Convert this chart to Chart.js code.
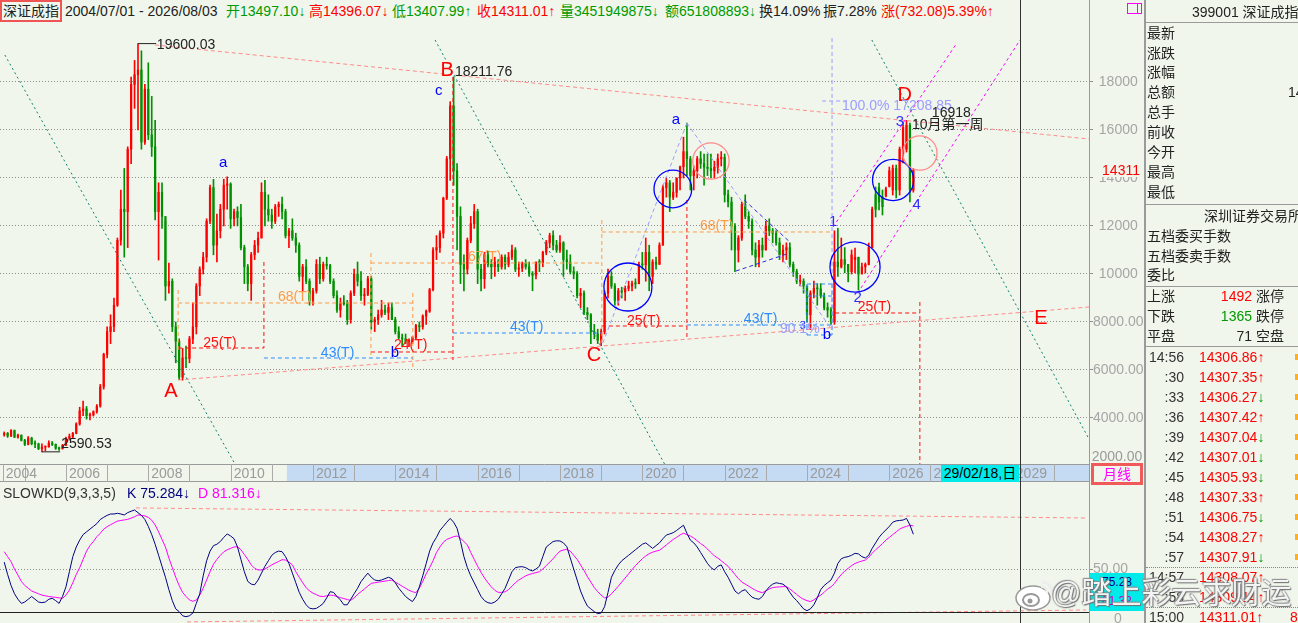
<!DOCTYPE html>
<html>
<head>
<meta charset="utf-8">
<title>深证成指 月线</title>
<script src="https://cdn.jsdelivr.net/npm/chart.js@4.4.1/dist/chart.umd.min.js"></script>
<style>
  body { margin:0; width:1298px; height:623px; overflow:hidden; position:relative; background:#f0f6ec;
         font-family: Arial, "Liberation Sans", "Noto Sans CJK SC", sans-serif; font-size:14px; color:#222; }
  .a { position:absolute; white-space:nowrap; line-height:18px; }
  .g { color:#009a00; }
  .r { color:#ff0000; }
  canvas { position:absolute; left:0; }
  #panel { position:absolute; left:1146px; top:0; width:152px; height:623px; overflow:hidden; }
  .hl { position:absolute; left:0; width:152px; height:1px; background:#9a9a9a; }
  .dl { position:absolute; left:0; width:152px; height:0; border-top:1px dotted #888; }
</style>
</head>
<body>

<canvas id="mainChart" width="1145" height="460" style="top:22px"></canvas>
<canvas id="kdChart" width="1145" height="141" style="top:482px"></canvas>

<!-- title bar -->
<div class="a" style="left:0;top:0;width:58px;height:18px;border:2px solid #f05555;text-align:center">深证成指</div>
<div class="a" style="left:65px;top:2px">2004/07/01 - 2026/08/03</div>
<div class="a g" style="left:226px;top:2px">开13497.10↓</div>
<div class="a r" style="left:309px;top:2px">高14396.07↓</div>
<div class="a g" style="left:392px;top:2px">低13407.99↑</div>
<div class="a r" style="left:477px;top:2px">收14311.01↑</div>
<div class="a g" style="left:560px;top:2px">量3451949875↓</div>
<div class="a g" style="left:665px;top:2px">额651808893↓</div>
<div class="a" style="left:759px;top:2px">换14.09%</div>
<div class="a" style="left:823px;top:2px">振7.28%</div>
<div class="a r" style="left:881px;top:2px">涨(732.08)5.39%↑</div>
<div style="position:absolute;left:1127px;top:3px;width:13px;height:9px;border:1px solid #ff00ff"><div style="position:absolute;left:9px;top:0;width:1px;height:9px;background:#ff00ff"></div></div>

<!-- frame lines, cursor -->
<div style="position:absolute;left:1089px;top:22px;width:1px;height:601px;background:#9a9a9a"></div>
<div style="position:absolute;left:1089px;top:0;width:1px;height:22px;background:#9a9a9a"></div>
<div style="position:absolute;left:1144px;top:0;width:2px;height:623px;background:#9a9a9a"></div>
<div style="position:absolute;left:1020px;top:0;width:1px;height:623px;background:#333"></div>
<div class="a" style="left:941px;top:465px;width:78px;height:17px;line-height:17px;background:#00eaea;color:#000;text-align:center">29/02/18,日</div>
<div class="a" style="left:1091px;top:463px;width:46px;height:16px;line-height:16px;border:3px solid #f05a5a;text-align:center;color:#ff00ff">月线</div>

<!-- KD title -->
<div class="a" style="left:3px;top:484px;color:#333">SLOWKD(9,3,3,5)</div>
<div class="a" style="left:127px;top:484px;color:#000080">K 75.284↓</div>
<div class="a" style="left:198px;top:484px;color:#ff00ff">D 81.316↓</div>
<div class="a" style="left:1090px;top:573px;width:54px;height:38px;background:#00eaea;font-size:12px;line-height:19px;color:#000080;text-align:center">75.28<br><span style="color:#c000c0">81.32</span></div>

<!-- quote panel -->
<div id="panel"></div>

<!-- watermark -->
<svg style="position:absolute;left:1014px;top:578px" width="40" height="34">
  <ellipse cx="19" cy="20" rx="17" ry="12" fill="#fff" stroke="#999" stroke-width="1.5"/>
  <ellipse cx="17" cy="22" rx="8" ry="6" fill="none" stroke="#999" stroke-width="2"/>
  <circle cx="16" cy="23" r="2.5" fill="#999"/>
  <path d="M28 4 A10 10 0 0 1 38 14" fill="none" stroke="#eee" stroke-width="3"/>
  <path d="M27 9 A5 5 0 0 1 33 15" fill="none" stroke="#eee" stroke-width="2.5"/>
</svg>
<div class="a" style="left:1051px;top:574px;font-size:30px;line-height:38px;color:rgba(255,255,255,0.92);text-shadow:0 0 2px #666,1px 1px 1px #777,-1px -1px 1px #999">@踏上彩云求财运</div>

<script>
// 月线数据 2004/07 - 2026/08 (index 0 = 2004/07)
var startMonth = "2004/07";
var openP = [
  3300,3360,3250,3480,3200,3280,
  3070,2900,3160,2930,2920,2720,2790,2800,2960,2900,2740,2720,
  2860,3150,3230,3360,3750,4300,4380,4100,4130,4260,4500,5300,
  6650,7600,7800,8700,11400,12700,12600,15200,17900,18300,18500,15500,
  17700,15800,15300,12600,13400,12400,9500,9700,7800,7200,5700,6500,
  6480,7300,7800,9500,10200,10700,12200,13600,11200,11800,12700,13700,
  13750,12300,12600,12350,11100,10300,9600,10800,11200,11500,13400,12700,
  12460,12200,12800,12900,12600,11600,11800,11500,11200,9900,10300,9700,
  8900,9300,10400,9800,10400,10350,9700,9100,8500,8800,8800,8100,
  9200,10000,9700,9100,9150,9800,8000,8100,8300,8500,8400,8600,
  8100,7600,7350,7300,7200,7200,7350,7850,7800,8250,8450,9350,
  11000,11100,11700,13160,14800,17000,14300,12400,10400,10200,11400,12100,
  12600,10200,9800,10800,10400,10300,10500,10300,10700,10400,10700,11000,
  10200,10250,10450,10300,10000,9950,10500,10480,10900,11300,11600,11200,
  11000,11300,10600,10500,10100,10000,9100,9200,8400,8300,7600,7500,
  7240,7600,9200,9900,9500,8900,9300,9250,9400,9500,9600,9590,
  10400,10380,10900,9900,10500,10400,11200,13600,13800,13200,13400,14000,
  14470,15100,14800,14100,14300,14800,14600,14450,14400,14300,14450,14800,
  14860,13300,13000,12000,11000,11500,12900,12400,12200,11000,10700,11200,
  11000,12000,11800,11700,11300,10800,11000,11100,10400,10100,9700,9700,
  9500,8300,9200,9400,9380,9100,8600,8500,8000,10500,10300,10600,
  10400,10100,10600,10700,10000,10300,10400,11100,13300,13600,13200,13250,
  13650,13500,14400,13500,15000,15200,16200,13497.10
];
var highP = [
  3420,3400,3520,3500,3330,3300,
  3110,3230,3200,3050,2950,2920,2830,3050,3020,2920,2790,2900,
  3200,3330,3400,3800,4450,4700,4480,4200,4300,4560,5400,6700,
  7800,8300,9000,11500,13500,14400,15300,18200,18900,19600.03,19300,17900,
  18800,17400,16400,13800,13800,12200,10450,9800,8000,7300,6900,7000,
  7400,8800,9600,10300,10900,12300,13700,13943,12500,12900,13950,14050,
  13800,12700,12800,12900,11200,10400,10900,11400,11750,13800,13900,13300,
  12700,12900,13000,13200,12700,11900,12300,11700,11300,10400,10600,9800,
  9400,10600,10700,10500,10700,10400,9800,9300,9000,9100,8900,9300,
  10200,10500,10100,9400,9900,9900,8200,8500,8900,8700,8800,8800,
  8200,7800,7500,7500,7300,7400,7900,8000,8300,8500,9400,11100,
  11600,11800,13200,14900,17180,18211.76,14600,12800,10800,11500,12400,12900,
  12700,10400,10900,10950,10600,10700,10600,10800,10800,10900,11200,11100,
  10500,10500,10600,10500,10100,10500,10600,10950,11400,11700,11800,11400,
  11600,11350,11000,10800,10300,10100,9400,9300,8600,8350,7900,7700,
  7700,9300,10200,10100,9600,9400,9450,9500,9700,9700,9800,10500,
  10900,11500,11200,10600,10700,11300,13700,14000,13900,13800,14000,14500,
  15700,16293,14900,14500,14900,15100,15000,15000,15000,14700,15000,15100,
  15000,13500,13200,12100,11600,13000,13300,12600,12300,11300,11400,11500,
  12200,12300,11900,11800,11500,11200,11300,11300,10500,10200,9950,9800,
  9500,9300,9700,9600,9600,9200,8800,8600,11800,11900,11500,11100,
  10400,11000,11080,10700,10460,10460,11290,12790,13625,13790,13500,13625,
  14460,14540,14540,15290,16330,16400,16290,14396.07
];
var lowP = [
  3240,3190,3220,3180,3160,3040,
  2850,2880,2880,2760,2680,2590.53,2630,2780,2850,2690,2650,2700,
  2850,3080,3150,3340,3700,4100,3950,3920,4080,4200,4450,5200,
  6500,7100,7600,8650,11200,10700,11100,14600,16900,16000,15200,15400,
  15600,14900,12250,10580,11900,8900,9200,7600,6300,5600,5577,6100,
  6300,7100,7500,9100,10000,10500,12100,10800,10500,11500,12000,12700,
  11900,12000,12000,11000,9600,9300,8900,10600,10900,11500,12000,12200,
  11900,12100,12400,12300,11500,11100,11400,10900,9700,9300,9600,8700,
  8700,9200,9600,9700,10200,9600,9000,8400,8200,8700,7900,7950,
  9100,9500,8900,8700,9100,7700,7600,7900,8200,8300,8100,8100,
  7500,7300,6960,7100,6980,7100,7300,7600,7700,7900,8400,9300,
  10600,10900,11500,13100,13900,13700,11000,9600,9300,10000,11300,11900,
  9600,9300,9400,10300,9800,9900,10100,10200,10200,10300,10600,10100,
  9900,10100,10200,9900,9300,9800,10100,10300,10800,11100,11000,10900,
  10900,9900,10200,10000,9800,9000,8600,8300,8100,7100,7300,7100,
  7011,7500,9000,9400,8700,8700,9000,8900,9300,9300,9400,9600,
  10200,9700,9300,9600,10200,10400,11200,13200,12600,13100,13200,13500,
  14000,14100,13500,13500,14000,14400,13700,14100,14000,14000,14200,14500,
  13000,12800,11000,10100,10500,11400,12300,11900,10800,10300,10300,10700,
  11000,11600,11300,11200,10600,10500,10600,10300,9900,9600,9500,9200,
  8000,7683,9000,8700,9000,8500,8200,7900,7900,9900,10250,10050,
  9670,10000,10040,9330,10000,10040,10375,11100,12375,12670,12460,13210,
  13625,13290,13170,13290,14625,15080,13000,13407.99
];
var closeP = [
  3360,3250,3480,3200,3280,3070,
  2900,3160,2930,2920,2720,2790,2800,2960,2900,2740,2720,2860,
  3150,3230,3360,3750,4300,4380,4100,4130,4260,4500,5300,6650,
  7600,7800,8700,11400,12700,12600,15200,17900,18300,18500,15500,17700,
  15800,15300,12600,13400,12400,9500,9700,7800,7200,5700,6500,6480,
  7300,7800,9500,10200,10700,12200,13600,11200,11800,12700,13700,13750,
  12300,12600,12350,11100,10300,9600,10800,11200,11500,13400,12700,12460,
  12200,12800,12900,12600,11600,11800,11500,11200,9900,10300,9700,8900,
  9300,10400,9800,10400,10350,9700,9100,8500,8800,8750,8100,9200,
  10000,9700,9100,9150,9800,8000,8100,8300,8500,8400,8600,8100,
  7600,7350,7300,7200,7200,7350,7850,7800,8250,8450,9350,11000,
  11100,11700,13160,14800,17000,14300,12400,10400,10200,11400,12100,12600,
  10200,9800,10800,10400,10300,10500,10300,10700,10400,10700,11000,10200,
  10250,10450,10300,10000,9950,10500,10480,10900,11300,11600,11200,11000,
  11300,10600,10500,10100,10000,9100,9200,8400,8300,7600,7500,7240,
  7600,9200,9900,9500,8900,9300,9250,9400,9500,9600,9590,10400,
  10380,10900,9900,10500,10400,11200,13600,13800,13200,13400,14000,14470,
  15100,14800,14100,14300,14800,14600,14450,14400,14300,14450,14800,14860,
  13300,13000,12000,11000,11500,12900,12400,12200,11000,10700,11200,11000,
  12000,11800,11700,11300,10800,11000,11100,10400,10100,9700,9700,9500,
  8300,9200,9400,9380,9100,8600,8500,8000,10500,10300,10600,10400,
  10100,10800,10700,10000,10300,10400,11100,12700,12700,13000,12800,13550,
  14300,14400,13500,15200,16100,16200,13500,14311.01
];
// SLOWKD(9,3,3,5)
var kLine = [
  55,46,38,32,28,25,26,28,30,28, 26,25.5,26,28,28.7,27,25,30,37,48,
  59,66,71,75,77,79,81,83,86,87.6, 89,90,90,90.5,90,89.3,91,92,92.9,91,
  89,86,81,75,68,60,52,44,35,27, 21,19,16,15.3,16,18,25,32,45,56,
  63,67,68,70,73,75.5,74,72,66,57, 48,41,39,38.5,42,47,52,56,60,62,
  63,62.6,59,54,47,40,33,28,24,21.5, 21,21.4,23,25,29,33.5,33,30,27.5,24,
  24,28,32,36,40.8,44,47,44,42,41.5, 42,43,44,43,40,36,33,30,28,26.3,
  30,37,45,54,63,69,73,78,81,84, 86.8,84,79.6,70,59,51,45,40,35,30,
  27,25.5,25,26,28,32,36,42,48,51, 51.5,51.7,51,49.5,48.6,50,52,59,66,68,
  70,70.5,70.4,69,66.2,58,50,42,34,28, 23,21,19,17.5,18,22.6,33,44,49,53,
  56,58,60,62,64,66,68,69,67,65, 67,69,72,74.7,75.5,76.4,78,80,81.8,76,
  71,69,66,62,58,54,51,49.3,52,53, 48,44,39,34,32,34,35,32,29.5,28.5,
  28,30,34,37,39,40,39.5,39,37,33, 29.5,27,24,21,19.7,21,24,29,35,38,
  40,42,47,54,57.5,58.5,59,60,61.4,61, 59,58,60,65,69,73,76,78.4,81,84,
  85,85.3,85.6,86.8,82,75.28
];
var dLine = [
  62.6,59,55.3,50,45.6,41,38,36,34,33, 32,31,30.5,30,29.7,29.4,29,28.7,31,34.7,
  40,46,51,57,63,67,70,73.5,76,79, 80.8,82.2,83.5,84.8,85.3,85.7,86.1,87,88,89.3,
  89,88.6,87.5,85.5,82,77,71.5,66,58,51, 44,38,33,30,27.5,26.5,27.5,31,36,42,
  48,53.5,57,60,62.5,64,65,66,66.2,64, 60.5,57,53,50.5,49.3,49.3,50,51.5,53,54.3,
  55.5,56.8,56.5,55,53,48,44,40,36.5,34, 32.5,31.3,30.2,30,30.5,31,30.8,30,29.2,28.5,
  27.8,27.2,29,31.5,33.5,35.5,37.6,39.6,40,40.4, 40.8,41.2,41.6,42,40.5,39,37.5,36,34.5,33.5,
  32.8,36,41,46.5,51,56,62,66,69.5,71.5, 72.5,73.5,74,72.5,70,67.5,62,57,52,47.5,
  43.5,40,37,34.5,33,33,33.4,35,37.5,40, 42,43.5,45,46,46.7,47.4,48,50,52.5,55,
  57.5,60.5,63,63.8,64.3,63,60,57,53,49, 44.4,40.5,36.5,33.5,31,29,29.5,32,34.7,37.5,
  40.5,43.5,46.5,49.5,52.5,55,57.5,59.5,61.2,62.2, 63,63.6,65.5,67.5,69.5,71.5,73,74.8,76,75,
  74,72.5,70.5,68.5,66.8,64.5,62,59.5,58,56, 54,52,49,46,43,40.5,39,37.5,36,34.5,
  33.5,32.8,34,35.5,36.5,36.8,37,37.2,37.2,35.5, 33.5,31.5,29.5,28,27,26.3,27.5,29.5,31,33,
  35.5,37,39.5,43,46,48.5,50.5,52.5,54,55, 55.8,56.5,58.5,61.5,64,66.2,68.5,71,73,75,
  77,79,80.2,81,81.8,81.32
];
var priceTicks = [4000, 6000, 8000, 10000, 12000, 14000, 16000, 18000];
var yearLabels = ["2004","2006","2008","2010","2012","2014","2016","2018","2020","2022","2024","2026","2027","2028","2029"];

// 右侧行情栏
var quoteLabels = ["最新","涨跌","涨幅","总额","总手","前收","今开","最高","最低"];
var orderLabels = ["五档委买手数","五档委卖手数","委比"];
var breadthRows = [["上涨","1492","涨停","#ff0000"],["下跌","1365","跌停","#009a00"],["平盘","71","空盘","#222"]];
var tickTimes = ["14:56",":30",":33",":36",":39",":42",":45",":48",":51",":54",":57","14:57",":58","15:00"];
var tickPrices = ["14306.86","14307.35","14306.27","14307.42","14307.04","14307.01","14305.93","14307.33","14306.75","14308.27","14307.91","14308.07","14309.14","14311.01"];
var tickDirs = [1,1,0,1,0,0,0,1,0,1,0,1,1,1];

var RED = "#ff0000", GREEN = "#009000";

// 面板
var panel = document.getElementById("panel");
var html = '<div class="a" style="left:46px;top:3px">399001 深证成指</div><div class="hl" style="top:22px"></div>';
quoteLabels.forEach(function (t, k) {
    var cy = [33,53,72,92,112,132,152,172,192][k];
    html += '<div class="a" style="left:1px;top:' + (cy - 9) + 'px">' + t + '</div>';
});
html += '<div class="a" style="left:142px;top:83px">14</div>';
html += '<div class="hl" style="top:204px"></div><div class="a" style="left:58px;top:207px">深圳证券交易所</div>';
orderLabels.forEach(function (t, k) {
    html += '<div class="a" style="left:1px;top:' + (227 + k * 20 - (k == 2 ? 1 : 0)) + 'px">' + t + '</div>';
});
html += '<div class="hl" style="top:286px"></div>';
breadthRows.forEach(function (r, k) {
    var top = 287 + k * 20;
    html += '<div class="a" style="left:1px;top:' + top + 'px">' + r[0] + '</div>' +
        '<div class="a" style="left:50px;width:56px;text-align:right;top:' + top + 'px;color:' + r[3] + '">' + r[1] + '</div>' +
        '<div class="a" style="left:110px;top:' + top + 'px">' + r[2] + '</div>';
});
html += '<div class="hl" style="top:346px"></div>';
tickTimes.forEach(function (t, k) {
    var cy = k < 11 ? 357 + k * 20 : (k == 11 ? 577 : (k == 12 ? 597 : 617));
    var arrow = tickDirs[k] ? '<span class="r">↑</span>' : '<span class="g">↓</span>';
    html += '<div class="a" style="left:0;width:38px;text-align:right;top:' + (cy - 9) + 'px;color:#333">' + t + '</div>' +
        '<div class="a r" style="left:53px;top:' + (cy - 9) + 'px">' + tickPrices[k] + arrow + '</div>';
    if (k < 11) html += '<div style="position:absolute;left:149px;top:' + (cy - 3) + 'px;width:3px;height:6px;background:#ffb020"></div>';
});
html += '<div class="a r" style="left:144px;top:608px">8</div>';
html += '<div class="dl" style="top:567px"></div><div class="dl" style="top:607px"></div>';
panel.innerHTML = html;

Chart.defaults.font.family = 'Arial, "Liberation Sans", "Noto Sans CJK SC", sans-serif';

// 标注 (月序号, 点位)
var RD = "#ff1010", OR = "#ff9a4a", BL = "#2d8cff", NV = "#2b2bd9", LV = "#9c9cff",
    MG = "#ff00ff", TL = "#0a8070", PK = "#ff8a8a", BK = "#222";
var DASH = [4, 3], DOT = [2, 3], NONE = [];
var segs = [
    [PK, DASH, 44, 19542, 316.2, 15625], [PK, DASH, 50.7, 5583, 316.2, 8625],
    [TL, DOT, 0.2, 19125, 67.4, 2050], [TL, DOT, 125.6, 19750, 192.6, 2050], [TL, DOT, 252.9, 19750, 316.2, 3125],
    [RD, DASH, 50.7, 6917, 75.7, 6917], [RD, DASH, 75.7, 10500, 75.7, 6917],
    [RD, DASH, 106.9, 6750, 130.8, 6750], [RD, DASH, 130.8, 18208, 130.8, 6417],
    [RD, DASH, 174.2, 7833, 199, 7833], [RD, DASH, 199, 13083, 199, 7375],
    [RD, DASH, 242.2, 8375, 266.9, 8375], [RD, DASH, 266.9, 8833, 266.9, 2050],
    [OR, DASH, 50.7, 9333, 50.7, 6833], [OR, DASH, 50.7, 8792, 119.1, 8792], [OR, DASH, 119.1, 9208, 119.1, 6083],
    [OR, DASH, 106.9, 10875, 106.9, 6542], [OR, DASH, 106.9, 10458, 174.2, 10458], [OR, DASH, 174.2, 12250, 174.2, 7042],
    [OR, DASH, 174.2, 11750, 241.3, 11750],
    [BL, DASH, 75.7, 6500, 119.1, 6500], [BL, DASH, 130.8, 7542, 174.2, 7542], [BL, DASH, 199, 7875, 241.6, 7875],
    [BL, DASH, 234, 9583, 241.3, 9583], [BL, DASH, 234, 7458, 241.3, 7458], [BL, DASH, 234, 9583, 234, 7458],
    [BL, DASH, 241.3, 9583, 241.3, 7458], [BL, DASH, 234, 9083, 241.3, 9083],
    [NV, DASH, 215.7, 13083, 229, 11333], [NV, DASH, 213.3, 10125, 229, 10875],
    [LV, DASH, 174.5, 7125, 199, 16292], [LV, DASH, 199, 16292, 241.3, 7667],
    [LV, DASH, 241.3, 19833, 241.3, 7667], [LV, DASH, 238.4, 17208.85, 245, 17208.85],
    [MG, [3, 3], 241.6, 11958, 277.7, 19625], [MG, [3, 3], 248.8, 9208, 296.1, 19750],
    [BK, NONE, 39, 19600, 44.3, 19600], [BK, NONE, 11, 2590, 16.3, 2590]
];
var rings = [
    [181.8, 9458, 7, "#0000ff"], [194.9, 13542, 5.5, "#0000ff"], [206, 14708, 5.3, PK],
    [248, 10292, 7.3, "#0000ff"], [259.1, 13917, 6, "#0000ff"], [266.9, 15042, 5, PK]
];
var F20 = "20px Arial", F14 = '14px Arial, "Noto Sans CJK SC"';
var notes = [
    [48.6, 5125, "A", RED, F20, "center"], [129.1, 18500, "B", RED, F20, "center"],
    [171.9, 6625, "C", RED, F20, "center"], [262.5, 17458, "D", RED, F20, "center"], [302.2, 8167, "E", RED, F20, "center"],
    [63.8, 14625, "a", "#0000ff", "15px Arial", "center"], [126.7, 17625, "c", "#0000ff", "15px Arial", "center"],
    [113.9, 6708, "b", "#0000ff", "15px Arial", "center"], [195.8, 16417, "a", "#0000ff", "15px Arial", "center"],
    [239.8, 7458, "b", "#0000ff", "15px Arial", "center"],
    [241.6, 12167, "1", "#3030ff", "15px Arial", "center"], [248.8, 9000, "2", "#3030ff", "15px Arial", "center"],
    [261.1, 16333, "3", "#3030ff", "15px Arial", "center"], [266, 12875, "4", "#3030ff", "15px Arial", "center"],
    [232.8, 7850, "3", "#3030ff", "11px Arial", "center"],
    [44.5, 19542, "19600.03", BK, F14], [16.6, 2917, "2590.53", BK, F14], [131.4, 18417, "18211.76", BK, F14],
    [244.2, 17000, "100.0% 17208.85", LV, F14], [226.1, 7708, "90.1%", LV, F14],
    [270.4, 16708, "16918", BK, F14], [264.6, 16208, "10月第一周", BK, F14],
    [58, 7125, "25(T)", RD, F14], [79.8, 9042, "68(T)", OR, F14], [92.3, 6708, "43(T)", BL, F14],
    [113.6, 7042, "24(T)", RD, F14], [135.2, 10708, "67(T)", OR, F14], [147.4, 7792, "43(T)", BL, F14],
    [181.5, 8042, "25(T)", RD, F14], [202.8, 12000, "68(T)", OR, F14], [215.6, 8125, "43(T)", BL, F14],
    [248.8, 8625, "25(T)", RD, F14]
];

var annoPlugin = {
    id: "anno",
    afterDatasetsDraw: function (chart) {
        var c = chart.ctx, a = chart.chartArea;
        var X = function (i) { return chart.scales.x.getPixelForValue(i); };
        var Y = function (v) { return chart.scales.y.getPixelForValue(v); };
        c.save();
        c.beginPath(); c.rect(a.left, a.top, a.right - a.left, a.bottom - a.top); c.clip();
        c.lineWidth = 1;
        segs.forEach(function (s) {
            c.strokeStyle = s[0]; c.setLineDash(s[1]);
            c.beginPath(); c.moveTo(X(s[2]), Y(s[3])); c.lineTo(X(s[4]), Y(s[5])); c.stroke();
        });
        c.setLineDash([]);
        c.lineWidth = 1.3;
        rings.forEach(function (r) {
            c.strokeStyle = r[3];
            c.beginPath(); c.arc(X(r[0]), Y(r[1]), X(r[2]) - X(0), 0, Math.PI * 2); c.stroke();
        });
        c.textBaseline = "middle";
        notes.forEach(function (n) {
            c.font = n[4]; c.fillStyle = n[3]; c.textAlign = n[5] || "left";
            c.fillText(n[2], X(n[0]), Y(n[1]));
        });
        c.restore();
    }
};

// 时间轴条 + 右轴标记
var bandPlugin = {
    id: "band",
    afterDraw: function (chart) {
        var c = chart.ctx, a = chart.chartArea, xs = chart.scales.x;
        var top = a.bottom, h = 18, blue0 = xs.getPixelForValue(82.4);
        c.save();
        c.fillStyle = "#f0f6ec"; c.fillRect(0, top, a.right, h);
        c.fillStyle = "#c5daf3"; c.fillRect(blue0, top + 1, a.right - blue0, h - 2);
        c.strokeStyle = "#9a9a9a"; c.lineWidth = 1;
        c.beginPath();
        c.moveTo(0, top + 0.5); c.lineTo(a.right, top + 0.5);
        c.moveTo(0, top + h - 0.5); c.lineTo(a.right, top + h - 0.5);
        c.stroke();
        c.strokeStyle = "#aaaaaa";
        for (var yr = 2004; yr <= 2030; yr++) {
            var px = Math.round(xs.getPixelForValue(yr == 2004 ? -0.4 : (yr - 2004) * 12 - 6)) + 0.5;
            c.beginPath(); c.moveTo(px, top); c.lineTo(px, top + h); c.stroke();
        }
        c.fillStyle = "#9a9a9a"; c.font = "14px Arial"; c.textBaseline = "middle"; c.textAlign = "left";
        yearLabels.forEach(function (lb) {
            var y = +lb, i = y == 2004 ? -0.4 : (y - 2004) * 12 - 6;
            c.fillText(lb, xs.getPixelForValue(i) + 3, top + h / 2 + 1);
        });
        // 2000.00 (partly hidden) and last price tag
        c.textAlign = "center";
        c.fillText("2000.00", 1117, 435);
        c.fillStyle = "#f0f6ec"; c.fillRect(1091, 140, 53, 15);
        c.fillStyle = "#ff0000"; c.fillText("14311", 1121, 149);
        c.restore();
    }
};

var idx = closeP.map(function (_, i) { return i; });
var upDown = idx.map(function (i) { return closeP[i] >= openP[i] ? RED : GREEN; });

new Chart(document.getElementById("mainChart"), {
    type: "bar",
    data: {
        datasets: [
            {
                label: "影线",
                data: idx.map(function (i) { return { x: i, y: [lowP[i], highP[i]] }; }),
                backgroundColor: upDown, barThickness: 1, grouped: false, borderWidth: 0
            },
            {
                label: "实体",
                data: idx.map(function (i) { return { x: i, y: [openP[i], closeP[i]] }; }),
                backgroundColor: upDown, barThickness: 1.6, grouped: false, borderWidth: 0, minBarLength: 1
            }
        ]
    },
    options: {
        responsive: false, animation: false, events: [], devicePixelRatio: 1,
        layout: { padding: { left: 0, right: 0, top: 0, bottom: 18 } },
        plugins: { legend: { display: false }, tooltip: { enabled: false } },
        scales: {
            x: { type: "linear", min: -1.224, max: 316.2, offset: false, display: false },
            y: {
                position: "right", min: 2083, max: 20500,
                afterFit: function (s) { s.width = 56; s.paddingTop = 0; s.paddingBottom = 0; },
                afterBuildTicks: function (s) { s.ticks = priceTicks.map(function (v) { return { value: v }; }); },
                ticks: {
                    color: "#a6a6a6", font: { size: 14 }, crossAlign: "center", padding: 0,
                    callback: function (v) { return v >= 10000 ? String(v) : v.toFixed(2); }
                },
                grid: { color: "#8f8f8f", tickLength: 4 },
                border: { display: false, dash: [1, 2] }
            }
        }
    },
    plugins: [annoPlugin, bandPlugin]
});

// KD 副图
var kdPlugin = {
    id: "kdx",
    beforeDatasetsDraw: function (chart) {
        var c = chart.ctx, a = chart.chartArea;
        var X = function (i) { return chart.scales.x.getPixelForValue(i); };
        var Y = function (v) { return chart.scales.y.getPixelForValue(v); };
        c.save();
        c.strokeStyle = PK; c.lineWidth = 1; c.setLineDash([4, 3]);
        c.beginPath(); c.moveTo(X(38.4), Y(94.4)); c.lineTo(X(315.3), Y(87.1)); c.stroke();
        c.beginPath(); c.moveTo(X(53.3), Y(11.5)); c.lineTo(X(315.3), Y(20.2)); c.stroke();
        c.setLineDash([]);
        c.strokeStyle = "#222";
        c.beginPath(); c.moveTo(a.left, Math.round(Y(18.7)) + 0.5); c.lineTo(a.right, Math.round(Y(18.7)) + 0.5); c.stroke();
        c.restore();
    },
    afterDraw: function (chart) {
        var c = chart.ctx;
        c.save();
        c.fillStyle = "#a6a6a6"; c.font = "14px Arial"; c.textAlign = "center"; c.textBaseline = "middle";
        c.fillText("0", 1118, 137);
        c.restore();
    }
};

new Chart(document.getElementById("kdChart"), {
    type: "line",
    data: {
        datasets: [
            { label: "K", data: idx.map(function (i) { return { x: i, y: kLine[i] }; }), borderColor: "#000080", borderWidth: 1, pointRadius: 0 },
            { label: "D", data: idx.map(function (i) { return { x: i, y: dLine[i] }; }), borderColor: "#ff00ff", borderWidth: 1, pointRadius: 0 }
        ]
    },
    options: {
        responsive: false, animation: false, events: [], devicePixelRatio: 1,
        layout: { padding: 0 },
        plugins: { legend: { display: false }, tooltip: { enabled: false } },
        scales: {
            x: { type: "linear", min: -1.224, max: 316.2, display: false },
            y: {
                position: "right", min: 10.73, max: 113.27,
                afterFit: function (s) { s.width = 56; s.paddingTop = 0; s.paddingBottom = 0; },
                afterBuildTicks: function (s) { s.ticks = [{ value: 50 }]; },
                ticks: { color: "#a6a6a6", font: { size: 14 }, crossAlign: "center", padding: 0,
                         callback: function (v) { return v.toFixed(2); } },
                grid: { color: "#8f8f8f", tickLength: 4 },
                border: { display: false, dash: [1, 2] }
            }
        }
    },
    plugins: [kdPlugin]
});
</script>
</body>
</html>
